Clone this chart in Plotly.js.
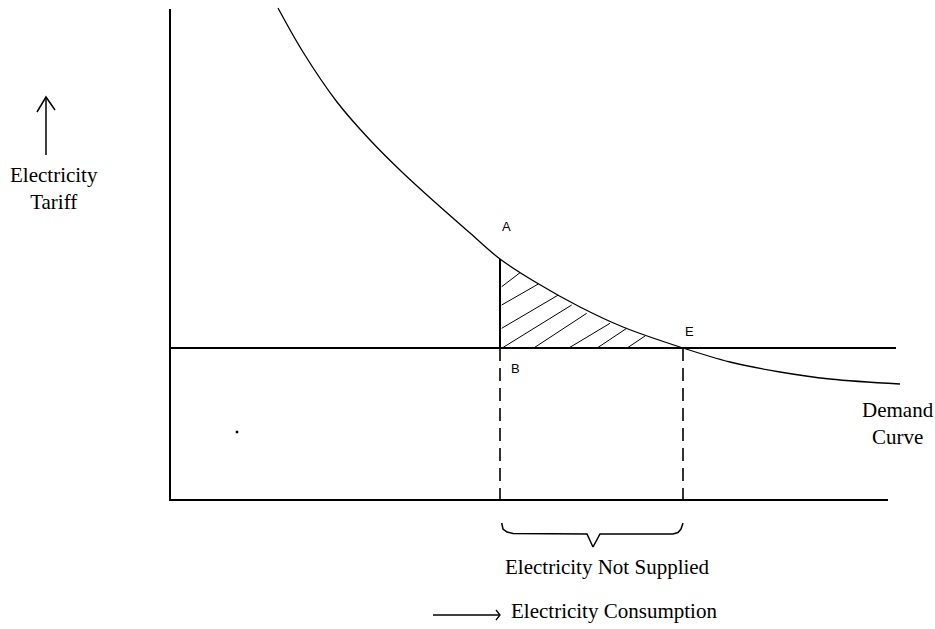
<!DOCTYPE html>
<html>
<head>
<meta charset="utf-8">
<script src="https://cdn.plot.ly/plotly-3.0.1.min.js"></script>
<style>html,body{margin:0;padding:0;background:#fff;}#chart{width:935px;height:629px;}</style>
</head>
<body>
<div id="chart"></div>
<script>
// Schematic coordinates: x = consumption, y = tariff (origin at the axes corner)
var demandX = [108, 133, 167, 200, 233, 267, 300, 330, 367, 410, 453, 513, 560, 610, 660, 730];
var demandY = [492, 448, 398, 360, 327, 296, 267, 241, 217, 193, 173, 152, 138, 128, 121, 116];

var axisX = [0, 0, 718];
var axisY = [491, 0, 0];

var supplyX = [1, 726];
var supplyY = [152, 152];

var pointAX = [330, 330];
var pointAY = [241, 152];

var dashLeftX = [330, 330];
var dashLeftY = [152, 0];
var dashRightX = [513, 513];
var dashRightY = [152, 0];

var hatchX = [331.7, 350, null, 331.7, 368.3, null, 331.7, 388.3, null, 331.7, 401.7, null,
              363.3, 416.7, null, 398.3, 440, null, 426.7, 456.7, null, 456.7, 475];
var hatchY = [213.3, 227.3, null, 195, 216, null, 171.7, 205, null, 151.7, 195, null,
              151.7, 186.7, null, 151.7, 176.7, null, 151.7, 171.7, null, 151.7, 164];

var braceX = [331.7, 333, 337, 343, 417, 423, 430, 503, 508, 511, 513];
var braceY = [-23, -29, -32, -33.5, -34, -47, -34, -34, -32.5, -29, -23];

var upArrowX = [-124, -124, null, -133, -124, -115];
var upArrowY = [345, 403, null, 388, 403, 390];

var rightArrowX = [263, 329, null, 326, 330, 326];
var rightArrowY = [-115, -115, null, -110, -115, -120];

var dotX = [67];
var dotY = [68];

var labels = [
  {text: 'A', x: 336, y: 274, font: 'sans'},
  {text: 'B', x: 345, y: 132, font: 'sans'},
  {text: 'E', x: 519, y: 169, font: 'sans'},
  {text: 'Electricity<br>Tariff', x: -116.5, y: 312, font: 'serif', anchor: 'center'},
  {text: 'Demand<br>Curve', x: 728, y: 77, font: 'serif', anchor: 'center'},
  {text: 'Electricity Not Supplied', x: 437, y: -67, font: 'serif', anchor: 'center'},
  {text: 'Electricity Consumption', x: 339, y: -111, font: 'serif', anchor: 'left'}
];

function seg(x, y, w, dash) {
  return {x: x, y: y, mode: 'lines', type: 'scatter', hoverinfo: 'skip', connectgaps: false,
          line: {color: '#000', width: w, dash: dash || 'solid'}};
}

var traces = [
  seg(axisX, axisY, 2),
  seg(supplyX, supplyY, 2),
  seg(pointAX, pointAY, 2),
  seg(dashLeftX, dashLeftY, 1.6, '13px,7px'),
  seg(dashRightX, dashRightY, 1.6, '13px,7px'),
  seg(hatchX, hatchY, 1),
  seg(braceX, braceY, 1.5),
  seg(upArrowX, upArrowY, 1.5),
  seg(rightArrowX, rightArrowY, 1.3),
  {x: demandX, y: demandY, mode: 'lines', type: 'scatter', hoverinfo: 'skip',
   line: {color: '#000', width: 1.3, shape: 'spline', smoothing: 1}},
  {x: dotX, y: dotY, mode: 'markers', type: 'scatter', hoverinfo: 'skip',
   marker: {symbol: 'square', size: 2.5, color: '#000'}}
];

var annotations = labels.map(function (l) {
  var serif = l.font === 'serif';
  return {
    text: l.text, x: l.x, y: l.y, xref: 'x', yref: 'y', showarrow: false,
    xanchor: l.anchor || 'center', yanchor: 'middle', align: 'center',
    font: {family: serif ? 'Liberation Serif, Times New Roman, serif' : 'Liberation Sans, Arial, sans-serif',
           size: serif ? 21 : 13, color: '#000'}
  };
});

var layout = {
  width: 935, height: 629,
  margin: {l: 0, r: 0, t: 0, b: 0},
  paper_bgcolor: '#fff', plot_bgcolor: '#fff',
  showlegend: false,
  xaxis: {range: [-170, 765], visible: false, fixedrange: true},
  yaxis: {range: [-129, 500], visible: false, fixedrange: true},
  annotations: annotations
};

Plotly.newPlot('chart', traces, layout, {staticPlot: true, displayModeBar: false});
</script>
</body>
</html>
